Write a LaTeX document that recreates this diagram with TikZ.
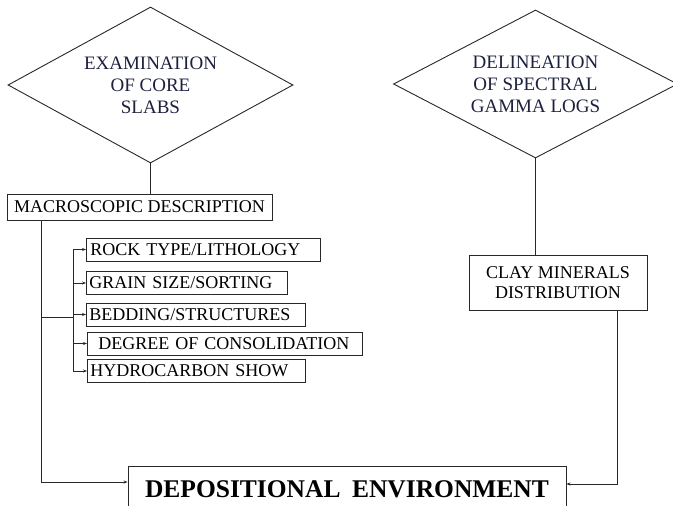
\documentclass[tikz,border=0pt]{standalone}
\usepackage{fontspec}
\setmainfont{Liberation Serif}
\usetikzlibrary{shapes.geometric,arrows.meta}
\definecolor{navytext}{RGB}{30,33,62}
\definecolor{linec}{RGB}{40,40,40}
\tikzset{
  diam/.style={draw=linec, line width=0.9pt, shape=diamond, inner sep=0pt, align=center,
    aspect=1.83, text=navytext, font=\fontsize{19}{22}\selectfont},
  plainbox/.style={draw=linec, line width=0.9pt, inner sep=0pt, font=\fontsize{18}{20}\selectfont},
  itembox/.style={draw=linec, line width=0.9pt, inner sep=0pt, anchor=west, minimum height=23pt,
    font=\fontsize{18}{20}\selectfont},
  conn/.style={linec, line width=0.9pt},
  arr/.style={conn, -{Stealth[length=4pt,width=3pt]}}
}
\begin{document}
\begin{tikzpicture}[x=1pt,y=-1pt]
\useasboundingbox (0,0) rectangle (673,506);
\clip (0,0) rectangle (673,506);
\fill[white] (0,0) rectangle (673,506);

\node[diam, minimum width=285pt, minimum height=156pt] (d1) at (150.5,85)
  {EXAMINATION\\OF CORE\\SLABS};
\node[diam, minimum width=284pt, minimum height=148pt] (d2) at (535.5,84)
  {DELINEATION\\OF SPECTRAL\\GAMMA LOGS};

\node[plainbox, minimum width=265pt, minimum height=26pt] (macro) at (139.5,207)
  {MACROSCOPIC DESCRIPTION};

\node[plainbox, minimum width=178pt, minimum height=55pt, align=center] (clay) at (558,282.5)
  {CLAY MINERALS\\DISTRIBUTION};

\node[itembox, minimum width=234pt, text width=234pt] (rock) at (86,249.5) {\hspace{4pt}ROCK TYPE/LITHOLOGY};
\node[itembox, minimum width=201pt, text width=201pt] (grain) at (86,283) {\hspace{3pt}GRAIN SIZE/SORTING};
\node[itembox, minimum width=219pt, text width=219pt] (bed) at (86,314.5) {\hspace{3pt}BEDDING/STRUCTURES};
\node[itembox, minimum width=275pt, text width=275pt] (deg) at (87,343.5) {\hspace{11pt}DEGREE OF CONSOLIDATION};
\node[itembox, minimum width=218pt, text width=218pt] (hyd) at (87,371) {\hspace{3pt}HYDROCARBON SHOW};

\node[draw=linec, line width=0.9pt, minimum width=438pt, minimum height=46pt, inner sep=0pt,
  font=\fontsize{25.5}{27}\selectfont\bfseries] (dep) at (347,489)
  {DEPOSITIONAL\hspace{0.45em}ENVIRONMENT};

% connectors
\draw[conn] (d1.south) -- (d1.south |- macro.north);
\draw[conn] (d2.south) -- (d2.south |- clay.north);

\draw[arr] ([xshift=35pt]macro.south west) |- ([yshift=7pt]dep.west);
\draw[arr] ([xshift=59pt]clay.south) |- ([yshift=5pt]dep.east);

\coordinate (j) at (42,317);
\coordinate (b) at (73,317);
\draw[conn] (j) -- (b);
\draw[conn] (b |- rock.west) -- (b |- hyd.west);
\foreach \n in {rock,grain,bed,deg,hyd}
  \draw[arr] (b |- \n.west) -- (\n.west);
\end{tikzpicture}
\end{document}
